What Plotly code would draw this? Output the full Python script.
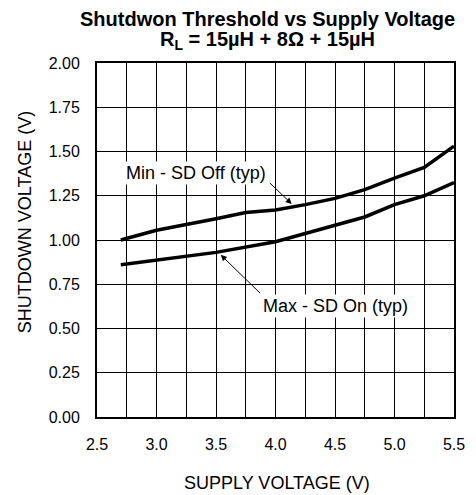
import plotly.graph_objects as go

supply_v = [2.7, 3.0, 3.5, 3.75, 4.0, 4.25, 4.5, 4.75, 5.0, 5.25, 5.5]
min_sd_off = [1.00, 1.055, 1.12, 1.155, 1.17, 1.20, 1.235, 1.285, 1.35, 1.41, 1.53]
supply_v2 = [2.7, 3.0, 3.5, 4.0, 4.25, 4.5, 4.75, 5.0, 5.25, 5.5]
max_sd_on = [0.86, 0.885, 0.93, 0.99, 1.035, 1.085, 1.13, 1.20, 1.25, 1.325]

FONT = "Liberation Sans, Arial, sans-serif"

fig = go.Figure()
fig.add_trace(go.Scatter(x=supply_v, y=min_sd_off, mode="lines",
                         line=dict(color="black", width=3.5), showlegend=False))
fig.add_trace(go.Scatter(x=supply_v2, y=max_sd_on, mode="lines",
                         line=dict(color="black", width=3.5), showlegend=False))

ann = []
# labels
ann.append(dict(x=3.33, y=1.379, xref="x", yref="y", text="Min - SD Off (typ)",
                showarrow=False, font=dict(size=18, color="black", family=FONT),
                bgcolor="white", borderpad=1))
ann.append(dict(x=4.507, y=0.629, xref="x", yref="y", text="Max - SD On (typ)",
                showarrow=False, font=dict(size=18, color="black", family=FONT),
                bgcolor="white", borderpad=1))
# arrows
ann.append(dict(x=4.136, y=1.204, ax=3.94, ay=1.330, xref="x", yref="y",
                axref="x", ayref="y", text="", showarrow=True,
                arrowhead=2, arrowsize=1.2, arrowwidth=1, arrowcolor="black"))
ann.append(dict(x=3.54, y=0.916, ax=3.884, ay=0.691, xref="x", yref="y",
                axref="x", ayref="y", text="", showarrow=True,
                arrowhead=2, arrowsize=1.2, arrowwidth=1, arrowcolor="black"))
# title lines
ann.append(dict(x=0.478, y=1.125, xref="paper", yref="paper", text="<b>Shutdwon Threshold vs Supply Voltage</b>",
                showarrow=False, font=dict(size=20, color="black", family=FONT),
                xanchor="center", yanchor="middle", borderpad=0))
ann.append(dict(x=0.478, y=1.064, xref="paper", yref="paper",
                text="<b>R<sub>L</sub> = 15µH + 8Ω + 15µH</b>",
                showarrow=False, font=dict(size=20, color="black", family=FONT),
                xanchor="center", yanchor="middle", borderpad=0))
# axis titles
ann.append(dict(x=0.504, y=-0.186, xref="paper", yref="paper", text="SUPPLY VOLTAGE (V)",
                showarrow=False, font=dict(size=18, color="black", family=FONT),
                xanchor="center", yanchor="middle"))
ann.append(dict(x=-0.202, y=0.55, xref="paper", yref="paper", text="SHUTDOWN VOLTAGE (V)",
                showarrow=False, font=dict(size=18, color="black", family=FONT),
                textangle=-90, xanchor="center", yanchor="middle"))

# page body has an 8px default margin, so the figure is offset by 8px
fig.update_layout(
    width=468, height=487,
    margin=dict(l=89, r=22, t=55, b=78),
    paper_bgcolor="white", plot_bgcolor="white",
    font=dict(family=FONT, color="black", size=16),
    annotations=ann,
    showlegend=False,
)
fig.update_xaxes(range=[2.5, 5.5], dtick=0.5, tick0=2.5, tickformat=".1f",
                 showgrid=True, gridcolor="black", gridwidth=1,
                 minor=dict(dtick=0.25, showgrid=True, gridcolor="black", gridwidth=1),
                 showline=True, linecolor="black", linewidth=2, mirror=True,
                 zeroline=False, ticks="", ticklabelstandoff=12,
                 tickfont=dict(size=16, family=FONT, color="black"))
fig.update_yaxes(range=[0, 2], dtick=0.25, tick0=0, tickformat=".2f",
                 showgrid=True, gridcolor="black", gridwidth=1,
                 showline=True, linecolor="black", linewidth=2, mirror=True,
                 zeroline=False, ticks="", ticklabelstandoff=12,
                 tickfont=dict(size=16, family=FONT, color="black"))

fig.write_html("out.html")
